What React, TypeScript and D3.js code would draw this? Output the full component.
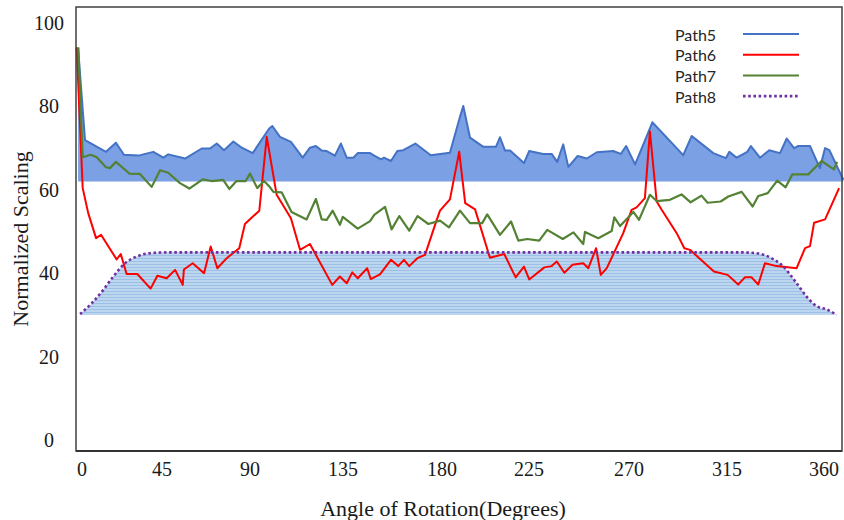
import React from "react";
import * as d3 from "d3";

const xTicks = [0, 45, 90, 135, 180, 225, 270, 315, 360];
const yTicks = [0, 20, 40, 60, 80, 100];
const seriesNames = ["Path5", "Path6", "Path7", "Path8"];

const path5Angle = [-2.2,1.7,13.5,19.1,23.6,31.7,40.1,45.7,48.2,56.8,65.3,69.5,73.0,76.7,81.5,85.8,91.3,99.3,100.8,104.5,109.8,115.5,119.0,121.9,124.7,127.1,131.1,134.0,136.7,139.7,141.7,147.3,148.8,152.3,153.6,156.8,159.7,162.4,167.9,174.9,184.1,189.3,191.0,194.5,201.4,207.9,210.0,212.6,215.2,222.4,225.1,231.4,235.2,237.7,240.4,242.7,246.9,251.0,255.5,262.9,266.3,268.7,272.8,279.6,280.7,294.9,298.8,308.7,314.5,316.1,319.5,324.4,326.1,330.3,334.6,339.6,342.7,346.1,348.1,353.5,358.1,360.5,362.5,369.0];
const path5Value = [94,71.9,69.1,71.3,68.4,68.2,69.1,67.7,68.5,67.5,69.9,69.9,71.1,69.5,71.6,70.1,68.8,74.7,75.3,72.7,71.5,67.7,70.1,70.5,69.4,69.3,68.2,71.1,67.7,67.7,68.8,68.8,68.3,67.3,67.7,66.9,69.3,69.5,71.1,68.3,68.9,77.5,80.1,72.5,70.3,70.3,72.6,69.4,69.4,66.4,69.3,68.6,68.6,66.7,70.9,65.5,68.1,67.5,69.0,69.3,68.6,70.5,66.1,74.7,76.2,68.3,72.9,68.8,67.6,69.1,67.7,69.1,70.5,67.7,69.5,68.8,72.3,70.0,70.5,70.5,65.2,70.0,69.5,62.4];
const path5Base = 62;

const path6Angle = [-3.0,0.4,3.5,7.9,10.7,19.5,21.8,25.1,31.1,38.6,42.4,47.4,51.7,55.6,56.2,60.7,66.5,69.9,73.3,78.1,84.5,87.4,94.5,98.1,102.9,109.8,114.2,119.0,129.8,133.5,136.7,139.2,141.7,146.0,147.6,151.8,156.8,160.1,162.7,165.1,168.8,172.3,177.6,179.1,184.1,188.9,192.0,197.1,204.8,212.2,218.1,222.4,225.1,231.9,235.2,237.5,240.9,244.5,249.4,251.7,255.2,257.3,260.0,267.4,271.2,273.5,277.3,279.6,282.7,285.0,291.9,295.4,298.0,309.0,315.3,320.2,323.3,326.4,329.5,332.6,338.0,347.3,351.2,353.5,355.4,360.5,367.0];
const path6Value = [94.2,60.4,54.4,48.4,49.2,43.3,44.6,39.8,39.8,36.3,39.4,38.8,40.8,37.2,40.9,42.4,40.0,46.4,41.2,43.6,46.0,51.8,55.0,72.7,58.8,53.2,45.6,47.0,37.2,39.2,37.6,40.2,38.8,41.2,38.6,39.7,43.2,41.7,43.2,41.7,43.6,44.4,52.8,55.0,57.7,69.1,56.8,55.3,43.7,44.6,39.0,41.6,38.5,41.4,41.7,42.8,40.1,42.0,42.4,41.2,46.0,39.6,41.2,49.6,55.2,55.8,58.0,74.0,57.2,55.2,49.6,46.0,45.6,40.4,39.6,37.3,39.0,39.0,37.3,42.4,41.7,41.2,46.0,46.5,52.1,52.9,60.4];

const path7Angle = [-2.1,0.4,4.9,8.3,13.5,15.7,19.1,26.6,32.6,39.2,43.9,48.2,54.2,59.0,65.8,70.4,76.3,79.4,83.1,87.8,90.0,93.5,96.8,99.7,101.3,105.3,110.1,117.4,121.9,124.7,127.1,130.0,133.5,134.9,141.7,147.3,149.2,154.1,157.1,160.6,165.1,168.9,173.8,179.1,183.6,189.3,194.5,200.8,203.4,210.0,215.7,219.5,224.1,229.6,233.2,240.2,245.0,249.4,250.2,256.2,262.2,263.4,266.0,272.0,274.6,279.6,282.7,288.8,294.1,298.3,303.3,306.1,312.1,315.6,321.8,326.9,329.5,333.9,338.3,342.2,345.3,352.7,358.9,364.6,366.1];
const path7Value = [94.2,67.8,68.4,67.8,65.4,65.2,66.7,63.9,63.8,60.7,64.7,64.1,61.6,60.3,62.5,62.1,62.4,60.2,62.1,62.1,63.9,60.4,62.1,60.6,59.5,59.4,54.7,52.9,57.8,52.9,52.8,55.0,51.6,53.5,50.7,52.5,54.0,55.9,50.5,53.7,50.2,53.7,51.8,52.6,51.0,55.0,52.0,52.0,54.1,49.2,52.4,47.8,48.2,47.8,50.4,48.2,49.8,47.0,49.9,48.4,50.1,53.4,51.3,54.7,52.8,58.8,57.3,57.6,58.9,57.0,58.6,56.9,57.2,58.4,59.5,56.0,58.5,59.2,62.2,60.6,63.7,63.7,66.9,64.9,66.7];

const path8Angle = [-1.1,5.5,12.0,17.6,24.2,30.8,38.2,49.1,90,135,180,225,270,321.0,328.8,334.9,341.1,347.3,351.9,356.6,361.3,365.9];
const path8Value = [30.2,32.8,36.0,39.2,42.4,44.0,44.8,45.0,45,45,45,45,45,45.0,44.8,43.8,41.6,37.6,34.4,32.1,31.3,30.0];
const path8Base = 30;

const colors = ["#4472C4", "#FF0000", "#548235", "#7030A0"];

type Pt = [number, number];
const zip = (a: number[], b: number[]): Pt[] => a.map((v, i) => [v, b[i]] as Pt);

export default function App() {
  const W = 844, H = 520;
  const plot = { left: 76, right: 842, top: 7, bottom: 451 };
  // axis labels are not evenly spaced in the original: piecewise linear scale
  const x = d3.scaleLinear().domain(xTicks).range([82, 162, 250, 343, 442, 529, 629, 727, 824]);
  const y = d3.scaleLinear().domain([0, 100]).range([440, 23]);

  const p5 = zip(path5Angle, path5Value);
  const p6 = zip(path6Angle, path6Value);
  const p7 = zip(path7Angle, path7Value);
  const p8 = zip(path8Angle, path8Value);

  const line = d3.line<Pt>().x(d => x(d[0])).y(d => y(d[1]));
  const smooth = d3.line<Pt>().x(d => x(d[0])).y(d => y(d[1])).curve(d3.curveMonotoneX);
  const area5 = d3.area<Pt>().x(d => x(d[0])).y0(y(path5Base)).y1(d => y(d[1]));
  const area8 = d3.area<Pt>().x(d => x(d[0])).y0(y(path8Base)).y1(d => y(d[1])).curve(d3.curveMonotoneX);

  const serif = "'Liberation Serif', 'Times New Roman', serif";
  const legendX = 675, legendLineX0 = 743, legendLineX1 = 799, legendY0 = 34, legendDy = 20.7;

  return (
    <div style={{ position: "absolute", left: 0, top: 0 }}>
      <svg width={W} height={H} style={{ display: "block", background: "#fff" }}>
        <defs>
          <pattern id="stripes" width={4} height={3} patternUnits="userSpaceOnUse">
            <rect width={4} height={3} fill="#BDD6EF" />
            <rect width={4} height={1} fill="#9CC0E6" />
          </pattern>
        </defs>
        <path d={area5(p5) || ""} fill="#7BA0E4" />
        <path d={area8(p8) || ""} fill="url(#stripes)" />
        <path d={line(p5) || ""} fill="none" stroke={colors[0]} strokeWidth={2} strokeLinejoin="round" />
        <path d={line(p6) || ""} fill="none" stroke={colors[1]} strokeWidth={2} strokeLinejoin="round" />
        <path d={line(p7) || ""} fill="none" stroke={colors[2]} strokeWidth={2.2} strokeLinejoin="round" />
        <path d={smooth(p8) || ""} fill="none" stroke={colors[3]} strokeWidth={2.6} strokeDasharray="2.6 2.6" />

        <rect x={plot.left} y={plot.top} width={plot.right - plot.left} height={plot.bottom - plot.top}
          fill="none" stroke="#404040" strokeWidth={1.5} />
        <line x1={plot.left} x2={plot.right} y1={plot.bottom} y2={plot.bottom} stroke="#333" strokeWidth={2} />

        {yTicks.map(t => (
          <text key={t} x={49} y={y(t)} textAnchor="middle" dominantBaseline="central"
            fontFamily={serif} fontSize={20} fill="#1a1a1a">{t}</text>
        ))}
        {xTicks.map(t => (
          <text key={t} x={x(t)} y={469} textAnchor="middle" dominantBaseline="central"
            fontFamily={serif} fontSize={20} fill="#1a1a1a">{t}</text>
        ))}
        <text x={443} y={508} textAnchor="middle" dominantBaseline="central" fontFamily={serif} fontSize={22} fill="#1a1a1a">
          Angle of Rotation(Degrees)
        </text>
        <text transform={`translate(20,239) rotate(-90)`} textAnchor="middle" dominantBaseline="central"
          fontFamily={serif} fontSize={22} fill="#1a1a1a">
          Normalized Scaling
        </text>

        {seriesNames.map((name, i) => {
          const ly = legendY0 + i * legendDy;
          return (
            <g key={name}>
              <text x={legendX} y={ly} dominantBaseline="central" fontFamily="Lato, 'Open Sans', sans-serif"
                fontSize={16} fill="#262626">{name}</text>
              <line x1={legendLineX0} x2={legendLineX1} y1={ly} y2={ly} stroke={colors[i]}
                strokeWidth={i === 3 ? 2.6 : 2} strokeDasharray={i === 3 ? "2.6 2.6" : undefined} />
            </g>
          );
        })}
      </svg>
    </div>
  );
}
